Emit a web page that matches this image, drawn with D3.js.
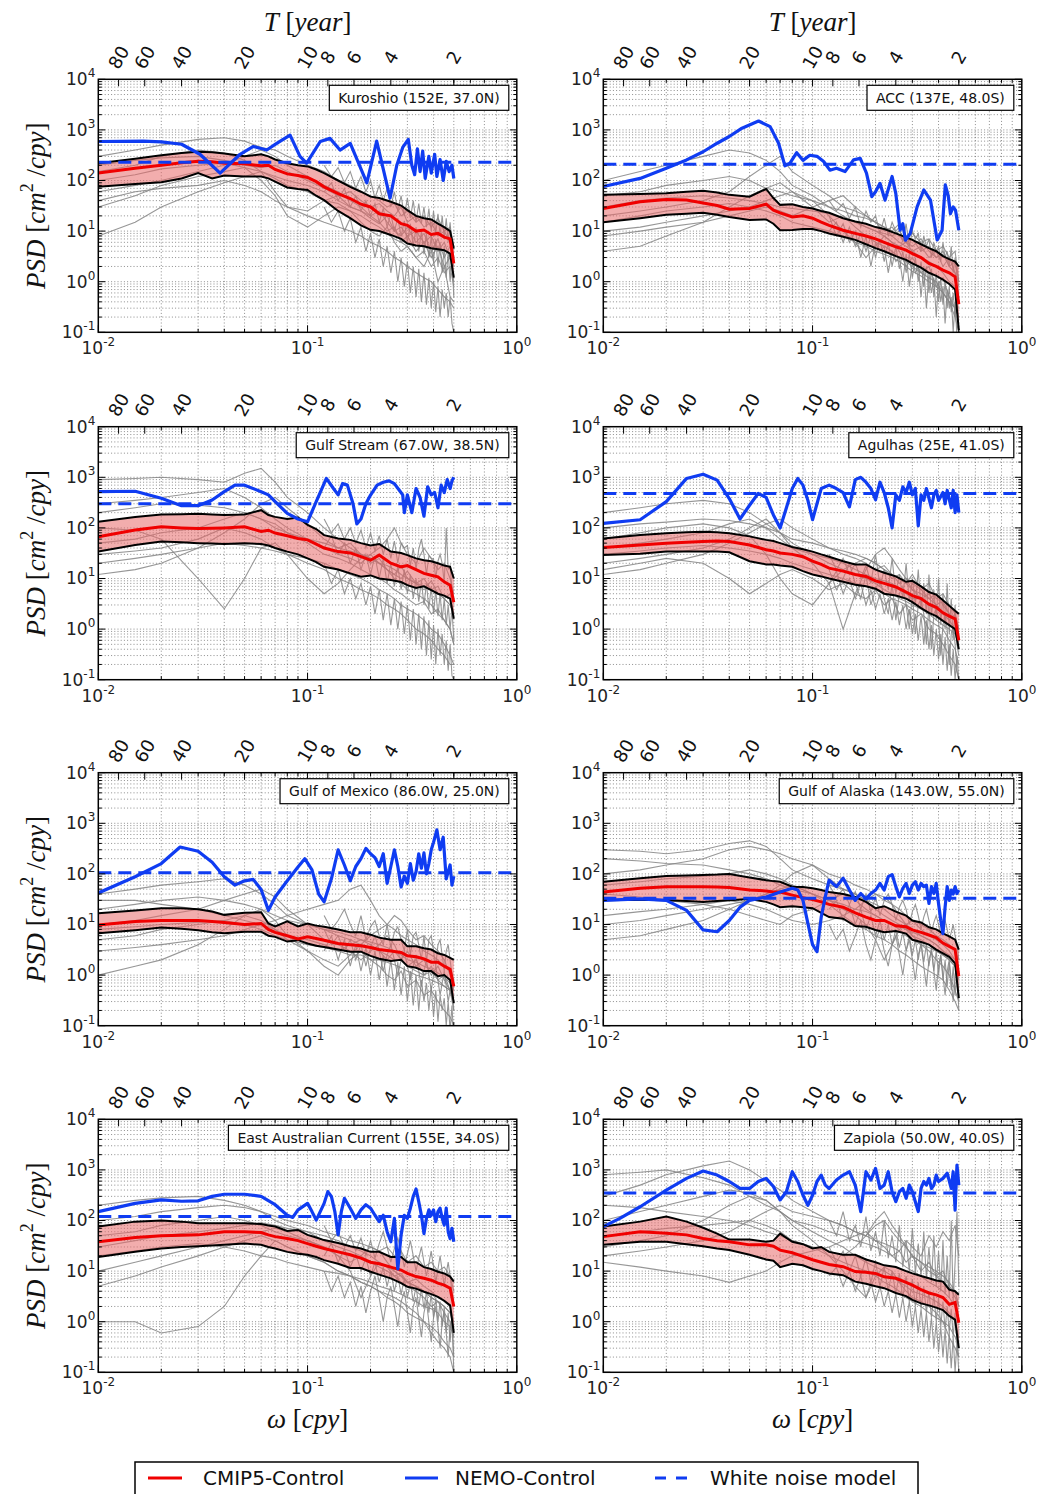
<!DOCTYPE html>
<html><head><meta charset="utf-8">
<script src="https://cdn.jsdelivr.net/npm/d3@7"></script>
<style>body{margin:0;background:#fff} svg{display:block}</style>
</head><body><svg id="c" width="1060" height="1494"></svg>
<script>
// ---------------- DATA ----------------
const panelTitles = ["Kuroshio (152E, 37.0N)","ACC (137E, 48.0S)","Gulf Stream (67.0W, 38.5N)","Agulhas (25E, 41.0S)",
  "Gulf of Mexico (86.0W, 25.0N)","Gulf of Alaska (143.0W, 55.0N)","East Australian Current (155E, 34.0S)","Zapiola (50.0W, 40.0S)"];
const periodTicks = [80,60,40,20,10,8,6,4,2];
const xMajorTicks = [0.01,0.1,1];
const yMajorTicks = [0.1,1,10,100,1000,10000];
const whiteNoise = [230,210,300,480,105,33,120,350];
const legendLabels = ["CMIP5-Control","NEMO-Control","White noise model"];

const meanFreq = [0.01,0.015,0.02,0.025,0.03,0.035,0.04,0.05,0.06,0.065,0.07,0.08,0.09,0.1,0.11,0.12,0.14,0.16,0.18,0.2,0.22,0.25,0.28,0.3,0.33,0.36,0.39,0.42,0.45,0.48,0.5];
const grayFreq = [0.01,0.015,0.02,0.03,0.04,0.05,0.06,0.07,0.08,0.1,0.12,0.14,0.16,0.18,0.2,0.22,0.24,0.26,0.28,0.3,0.33,0.36,0.39,0.42,0.45,0.48,0.5];
const grayHfFreq = [0.12,0.13,0.14,0.15,0.16,0.17,0.18,0.19,0.2,0.21,0.22,0.23,0.24,0.25,0.26,0.27,0.28,0.29,0.3,0.31,0.32,0.33,0.34,0.35,0.36,0.37,0.38,0.39,0.4,0.41,0.42,0.43,0.44,0.45,0.46,0.47,0.48,0.49,0.5];

// Kuroshio
const kuroshioRed = [140,175,200,225,240,235,220,215,195,200,165,135,125,115,95,75,55,44,34,30,22,20,14,13,10,10.5,8.6,9,7.6,7,2.3];
const kuroshioHi = [220,270,315,350,370,360,340,300,330,300,260,220,200,190,165,140,100,75,60,48,45,38,32,26,20,18,17,14,12,10,4.5];
const kuroshioLo = [75,85,92,110,140,110,125,120,120,110,95,73,68,65,50,41,25,18,13,10.6,10,8.4,7,5.7,5.2,5,4.6,4.4,4.2,3.6,1.2];
const kuroshioBlue = [[0.01,590],[0.0164,600],[0.02,580],[0.025,520],[0.0306,330],[0.0382,140],[0.0476,330],[0.0551,470],[0.0638,400],[0.0712,540],[0.0825,790],[0.092,300],[0.099,220],[0.115,590],[0.128,680],[0.143,400],[0.16,540],[0.192,90],[0.214,600],[0.248,45],[0.267,200],[0.285,450],[0.303,650],[0.315,200],[0.325,130],[0.335,420],[0.345,150],[0.355,380],[0.365,110],[0.38,300],[0.39,140],[0.405,330],[0.415,120],[0.43,260],[0.445,100],[0.46,240],[0.475,150],[0.49,200],[0.5,110]];
const kuroshioGray = [
 [8,15,30,60,90,120,150,110,80,60,40,35,25,20,15,12,9,7,6,5,3,4,2,3,1.5,2,0.8],
 [300,400,500,650,700,600,450,400,300,200,150,100,80,60,50,40,30,35,20,25,15,20,12,18,10,12,5],
 [150,200,300,400,350,250,150,60,30,25,40,50,30,25,20,15,10,12,6,8,4,6,3,5,2,3,1],
 [60,80,100,150,200,300,400,300,200,120,80,60,40,30,20,25,15,10,12,8,10,6,8,4,6,3,2],
 [30,50,80,120,150,180,100,50,20,12,20,30,25,15,10,8,12,6,4,5,3,2,4,1,2,0.5,0.4],
 [200,250,280,300,250,200,180,200,150,100,70,50,60,40,30,35,25,20,30,15,20,12,15,8,10,6,3],
 [100,130,170,200,220,180,150,120,100,80,60,40,30,25,18,14,20,10,8,12,6,9,4,7,3,5,2],
 [40,60,70,80,100,80,60,40,30,20,15,12,10,8,6,5,4,3,2.5,2,1.5,1.2,1,0.7,0.5,0.4,0.3]];
const kuroshioGrayHf = [
 [200,120,180,90,150,70,120,60,100,45,80,40,70,30,60,25,50,20,45,18,40,15,35,14,30,12,28,10,25,9,22,8,20,7,18,6,15,5,3],
 [60,90,40,70,30,50,25,40,20,35,15,28,12,22,10,18,8,16,6,14,5,12,4,10,3.5,9,3,8,2.5,7,2,6,1.5,5,1.2,4,1,3,0.5],
 [30,15,25,10,18,6,12,4,9,3,7,2,5,1.5,4,1,3,0.8,2.5,0.6,2,0.5,1.8,0.4,1.5,0.35,1.2,0.3,1,0.25,0.8,0.2,0.7,0.3,0.6,0.2,0.5,0.15,0.1]];

// ACC
const accRed = [28,38,42,41,36,32,27,28,34,26,23,19,20,18,15,13,10.4,9,8,7,6,4.9,4.2,3.6,3,2.3,2,1.7,1.5,1.25,0.36];
const accHi = [52,54,56,60,63,58,52,48,68,45,33,34,30,28,25,23,18,15.5,14,12,11,9,7.5,6.7,5.5,4.6,4,3.2,2.8,2.5,2];
const accLo = [15,18,21,22,23,21,19,16.5,17,14,10.4,10.5,11,11,10,9,7.7,6.7,5.5,4.6,4,3.2,2.7,2.3,1.9,1.5,1.3,1.1,0.9,0.7,0.11];
const accBlue = [[0.01,76],[0.015,110],[0.02,175],[0.025,255],[0.03,370],[0.035,545],[0.04,740],[0.046,1080],[0.0552,1500],[0.0627,1160],[0.0688,545],[0.0738,195],[0.078,220],[0.084,355],[0.09,250],[0.097,315],[0.105,300],[0.113,237],[0.121,160],[0.13,175],[0.143,150],[0.157,255],[0.169,273],[0.181,140],[0.192,48],[0.2,60],[0.21,88],[0.222,41],[0.24,120],[0.25,55],[0.262,10.5],[0.27,14],[0.278,6.6],[0.293,9],[0.316,30],[0.34,65],[0.366,41],[0.394,6.7],[0.416,10.4],[0.431,82],[0.445,50],[0.456,22],[0.47,30],[0.482,26],[0.5,10.4]];
const accGray = [
 [100,150,200,300,400,350,250,150,80,50,30,20,15,12,10,8,6,5,6,4,5,3,4,2,3,1.5,1],
 [4,5,8,15,30,50,70,90,60,30,15,20,12,8,6,5,4,3,2.5,2,1.5,1.2,1,0.6,0.4,0.2,0.1],
 [50,60,80,100,120,100,70,60,50,40,30,25,20,18,15,12,10,14,8,9,6,7,4,5,3,4,1],
 [10,12,15,20,25,30,40,50,60,40,20,10,6,3,5,8,6,4,2,3,1.5,2,0.8,1.2,0.5,0.3,0.2],
 [20,25,30,40,60,120,200,300,150,80,50,30,25,20,15,10,12,8,6,5,7,4,3,4,2,2.5,1],
 [30,40,45,50,45,40,35,30,28,25,22,18,15,12,10,9,8,6,5,4,3,2.5,2,1.5,1,0.8,0.5],
 [8,10,12,15,20,25,30,25,20,30,40,50,30,20,15,12,8,10,6,7,4,5,3,3.5,2,1.5,0.5],
 [15,20,25,30,35,30,25,20,15,12,10,8,6,5,4,3.5,3,2.5,2,1.6,1.3,1,0.8,0.6,0.4,0.3,0.2]];
const accGrayHf = [
 [40,25,35,18,30,12,25,15,20,9,18,8,15,10,12,6,14,5,10,7,9,4,8,5,7,3,6,4,5,2.5,6,3,4,2,5,1.5,3,1.2,0.8],
 [10,15,6,12,5,9,4,8,3,7,2.5,6,2,5,1.8,4,1.5,3.5,1.2,3,1,2.5,0.8,2,0.6,1.8,0.5,1.5,0.4,1.2,0.35,1,0.3,0.8,0.25,0.6,0.2,0.5,0.1],
 [20,8,14,6,10,3,8,2,6,4,5,1.5,4,2.5,3,1,3.5,0.8,2.5,1.5,2,0.5,2,0.3,1.5,0.6,1.2,0.2,1,0.4,0.8,0.15,0.7,0.3,0.5,0.1,0.4,0.08,0.05]];

// Gulf Stream
const gulfStreamRed = [67,91,105,100,97,98,100,105,85,90,79,70,62,58,48,40,34,32,27,23,29,20,17,18,15,12.6,11.6,10.8,8.6,7.4,3.4];
const gulfStreamHi = [132,165,183,187,190,185,180,185,224,180,165,150,160,115,95,72,62,58,50,45,48,34,32,29,25,23,22,20,18,17,10];
const gulfStreamLo = [34,46,54,52,50,49,48,50,48,45,40,34,30,25,21,17,15,12.6,10.8,11.5,10,9.3,8.5,7.4,6.5,7,5.9,5,4.6,4,1.6];
const gulfStreamBlue = [[0.01,520],[0.015,530],[0.02,385],[0.025,275],[0.03,275],[0.035,355],[0.04,520],[0.045,700],[0.05,700],[0.06,520],[0.065,450],[0.07,330],[0.08,194],[0.09,150],[0.1,132],[0.11,330],[0.123,950],[0.133,600],[0.14,450],[0.147,750],[0.155,700],[0.165,300],[0.172,120],[0.18,150],[0.19,300],[0.2,445],[0.215,700],[0.23,800],[0.245,850],[0.26,750],[0.275,550],[0.285,450],[0.29,200],[0.3,450],[0.315,200],[0.33,600],[0.345,400],[0.36,170],[0.375,650],[0.39,450],[0.405,500],[0.42,250],[0.435,700],[0.45,500],[0.465,900],[0.48,600],[0.49,850],[0.5,1000]];
const gulfStreamGray = [
 [900,950,1000,900,800,1200,1500,800,400,200,100,60,40,30,25,20,15,12,10,14,8,10,6,7,4,5,2],
 [12,15,20,40,80,150,300,400,250,120,60,40,50,30,20,25,15,12,18,10,8,6,9,5,4,3,2],
 [100,90,60,10,2.5,10,40,50,30,20,15,10,8,6,5,4,3,2.5,2,1.5,1,0.8,0.6,0.4,0.3,0.2,0.2],
 [300,350,400,500,600,400,250,150,100,60,40,30,25,20,30,40,60,100,50,30,20,40,25,15,20,10,5],
 [50,60,80,100,150,200,150,100,80,60,50,40,35,30,25,20,18,15,12,10,8,7,6,5,4,3,2],
 [20,25,30,40,50,45,40,35,30,25,20,15,12,10,8,6,5,4,3,2.5,2,1.5,1,0.8,0.5,0.3,0.2],
 [200,250,300,280,250,200,150,120,80,50,30,25,20,15,12,10,8,6,5,4,3,3.5,2,2.5,1.5,1,0.5],
 [30,35,40,60,100,80,60,40,30,10,5,8,15,25,30,20,15,10,8,6,5,4,3,2,1.5,1,0.5]];
const gulfStreamGrayHf = [
 [150,80,120,60,100,50,90,40,80,35,70,30,60,25,55,20,50,40,45,18,40,15,38,60,30,12,28,25,24,10,22,30,20,8,100,15,18,6,4],
 [40,70,30,50,20,40,15,30,12,28,10,25,8,20,7,18,6,15,5,12,4,10,3.5,9,3,8,2.5,7,2,6,1.8,5,1.5,4,1.2,3,1,2.5,0.6],
 [20,8,15,5,10,4,8,3,7,2,6,1.5,5,1.2,4,1,3.5,0.8,3,0.6,2.5,0.5,2,0.4,1.8,0.3,1.5,0.25,1.2,0.2,1,0.3,0.8,0.2,0.6,0.15,0.5,0.12,0.1]];

// Agulhas
const agulhasRed = [41,46,50,52,54,55,54,46,37,35,32,30,27,22,19,16,14,12,11,9,8,6.8,5.4,4.6,4,3.1,2.7,2.1,1.8,1.6,0.6];
const agulhasHi = [62,72,78,82,84,82,78,68,58,55,50,42,38,34,30,27,22,19,19,15,13,11,8.6,9,7,5.4,4.8,3.7,2.9,2.3,2];
const agulhasLo = [29,31,34,34,34,34,33,22,19,19,18,17,14,12,11,10,8.6,7.5,7,6.3,5,4.6,4,3.4,2.6,2.1,1.8,1.45,1.2,1,0.4];
const agulhasBlue = [[0.01,123],[0.015,145],[0.02,330],[0.025,950],[0.03,1150],[0.035,880],[0.04,380],[0.045,150],[0.05,280],[0.055,480],[0.06,400],[0.065,180],[0.07,100],[0.075,250],[0.08,600],[0.085,950],[0.09,700],[0.095,350],[0.1,145],[0.11,600],[0.12,700],[0.13,600],[0.14,500],[0.15,260],[0.16,900],[0.17,1000],[0.18,800],[0.19,600],[0.2,360],[0.21,800],[0.22,500],[0.23,250],[0.24,100],[0.25,450],[0.26,350],[0.27,650],[0.28,500],[0.29,800],[0.3,450],[0.31,600],[0.32,110],[0.33,450],[0.34,350],[0.35,600],[0.37,250],[0.38,450],[0.39,550],[0.4,350],[0.42,500],[0.43,300],[0.44,550],[0.46,250],[0.47,550],[0.48,200],[0.49,450],[0.5,200]];
const agulhasGray = [
 [200,250,300,350,300,200,120,80,50,30,20,15,12,10,8,6,5,4,3.5,3,2.5,2,1.5,1.2,1,0.8,0.5],
 [12,15,20,30,50,80,120,150,100,60,40,30,25,20,15,18,12,8,10,6,5,4,3,3.5,2,1.5,0.8],
 [60,80,100,120,100,70,30,10,5,3,8,15,20,25,20,15,10,12,8,6,4,5,3,2,1.5,2,1],
 [30,35,40,45,40,35,30,25,20,15,12,10,8,7,6,5,4,3.5,3,2.5,2,1.5,1.2,1,0.6,0.4,0.2],
 [20,25,30,40,60,100,150,80,40,20,8,1,5,15,30,40,25,15,10,8,6,4,5,3,2,1.5,1],
 [100,120,130,150,140,120,100,80,60,50,40,35,30,25,20,15,12,10,8,12,6,8,4,5,3,2,1],
 [15,20,25,20,10,5,8,12,15,10,6,8,5,4,6,3,4,2,3,1.5,2,1,0.8,0.5,0.3,0.2,0.1],
 [40,50,60,80,120,150,100,60,40,30,25,20,15,12,10,9,8,6,5,4,4,3,2.5,2,1.5,1,0.6]];
const agulhasGrayHf = [
 [30,15,25,12,20,10,18,8,30,7,15,6,25,5,12,4,20,3.5,10,3,15,2.5,8,2,12,1.8,6,1.5,10,1.2,5,1,8,0.8,4,0.6,3,0.5,0.3],
 [8,14,5,10,4,8,3,6,2.5,5,2,4,1.5,3.5,1.2,3,1,2.5,0.8,2,0.6,1.8,0.5,1.5,0.4,1.2,0.3,1,0.25,0.8,0.2,0.7,0.15,0.5,0.12,0.4,0.1,0.3,0.1],
 [15,6,10,20,8,4,12,3,6,10,4,2,8,1.5,5,7,3,1,5,0.8,3,4,2,0.5,3,0.4,2,2.5,1.5,0.3,1.2,2,1,0.2,0.8,1.2,0.5,0.15,0.1]];

// Gulf of Mexico
const mexicoRed = [9.8,11.5,12,12,12,11.5,11,10,10.5,8,7,6,5.2,5.7,5.3,4.9,4.2,4,3.8,3.5,3.2,3,2.8,2.4,2.3,2.1,1.8,1.8,1.5,1.3,0.6];
const mexicoHi = [16.6,19,21,21,20,18,15.5,17,17.5,10.5,9.2,11.5,9.2,10.5,9.5,9,8,7,7,6.3,5.5,5,5,3.7,3.7,3.4,3.2,2.7,2.5,2.2,2];
const mexicoLo = [6.7,7.7,8.7,8.2,7.7,7,6.7,7.2,7.2,6,5.7,4.6,4.9,4.2,3.8,3.6,3.2,2.9,2.9,2.4,2.1,1.9,2,1.5,1.4,1.2,1.2,0.95,1,0.8,0.28];
const mexicoBlue = [[0.01,42],[0.015,88],[0.02,160],[0.0246,340],[0.03,280],[0.035,170],[0.04,88],[0.045,60],[0.05,73],[0.055,78],[0.06,49],[0.065,19],[0.07,35],[0.08,73],[0.09,137],[0.097,200],[0.105,120],[0.113,40],[0.12,28],[0.13,80],[0.14,300],[0.15,150],[0.16,73],[0.17,140],[0.18,200],[0.19,320],[0.2,250],[0.21,210],[0.22,140],[0.23,250],[0.24,65],[0.25,140],[0.26,300],[0.27,140],[0.28,55],[0.29,90],[0.3,65],[0.31,160],[0.32,75],[0.33,110],[0.34,250],[0.35,130],[0.36,260],[0.37,100],[0.38,160],[0.39,300],[0.4,420],[0.415,740],[0.43,300],[0.445,530],[0.46,80],[0.48,150],[0.49,60],[0.5,90]];
const mexicoGray = [
 [1,1.5,2,4,8,15,20,12,6,3,1.5,1,2,3,2,1.5,1,0.8,1.2,0.6,0.8,0.4,0.5,0.3,0.2,0.15,0.1],
 [40,50,60,70,80,60,40,25,15,10,8,6,5,4,3.5,3,2.5,2,2,1.5,1.2,1,1.2,0.8,0.6,0.5,0.3],
 [3,3.5,4,5,6,8,10,12,15,20,25,30,50,60,30,15,10,8,6,5,4,3,2.5,2,1.5,1.2,0.8],
 [20,25,30,35,30,25,20,15,12,10,8,7,6,5,4.5,4,3.5,3,2.5,2,1.8,1.5,1.3,1.1,0.9,0.7,0.5],
 [5,6,8,10,12,15,12,8,5,3,2,1.5,2.5,4,6,8,10,15,12,8,5,6,4,3,2,1,0.5],
 [10,12,15,20,30,40,50,35,20,10,5,4,3,2,3,4,6,4,2,3,1.5,2,1,1.5,0.8,0.5,0.3],
 [8,9,10,11,12,10,8,6,5,4,3.5,3,2.5,2.5,2,2,1.8,1.6,1.4,1.2,1,0.9,0.8,0.7,0.6,0.5,0.3],
 [30,30,25,20,15,12,10,8,6,5,4,3,4,5,4,3,2,3,2,1.5,2,1,1.5,0.8,1,0.5,0.2]];
const mexicoGrayHf = [
 [15,8,12,20,10,6,15,5,9,12,6,4,10,3.5,7,9,5,3,8,2.5,6,7,4,2,6,1.8,5,6,3,1.5,4,5,2.5,1.2,3,4,2,1,0.6],
 [3,6,2,5,1.5,4,1.2,3.5,1,3,0.8,2.5,0.6,2,0.5,1.8,0.4,1.5,0.3,1.2,0.25,1,0.2,0.8,0.3,0.7,0.2,0.6,0.15,0.5,0.12,0.4,0.2,0.35,0.1,0.3,0.08,0.25,0.05],
 [8,4,6,3,5,2,4,1.5,3.5,6,3,1.2,2.5,4,2,1,2,3,1.5,0.8,1.5,2.5,1.2,0.6,1.2,2,1,0.5,1,1.5,0.8,0.4,0.7,1.2,0.6,0.3,0.5,0.8,0.2]];

// Gulf of Alaska
const alaskaRed = [44,52,56,56,56,55,54,48,46,44,44,38,34,31,28,25,22,17,14,12,12,9.4,9,7.8,7,6.2,5.5,4.3,3.7,3.2,0.95];
const alaskaHi = [70,82,91,93,95,97,100,85,75,72,70,56,55,52,48,44,40,35,28,21,23,18,15,12,11,8.8,8,6.7,5.8,5,3.2];
const alaskaLo = [30,31,30,29,28,29,30,32,28,25,22,23,22,21,17,14,13,9.3,9,7.8,7,7.4,6.6,5,4.5,4,3.2,2.7,2.3,1.7,0.35];
const alaskaBlue = [[0.01,30],[0.015,32],[0.02,30],[0.025,19],[0.03,7.8],[0.035,7.2],[0.04,12],[0.045,22],[0.05,30],[0.06,35],[0.07,44],[0.08,52],[0.085,48],[0.09,30],[0.095,10.5],[0.1,4],[0.105,2.9],[0.11,14],[0.115,35],[0.12,75],[0.13,56],[0.14,82],[0.15,48],[0.16,30],[0.17,41],[0.18,32],[0.19,41],[0.2,48],[0.21,65],[0.22,48],[0.23,88],[0.24,97],[0.25,56],[0.26,35],[0.27,52],[0.28,65],[0.29,41],[0.3,60],[0.31,70],[0.32,48],[0.33,65],[0.34,56],[0.35,60],[0.36,26],[0.37,56],[0.38,41],[0.39,65],[0.4,26],[0.41,12],[0.42,6.6],[0.43,22],[0.44,56],[0.45,30],[0.46,48],[0.47,40],[0.48,56],[0.49,41],[0.5,48]];
const alaskaGray = [
 [300,280,250,300,400,450,350,200,120,80,60,50,40,30,25,20,15,12,10,12,8,6,5,4,3,2,1],
 [5,6,8,12,20,30,40,60,100,150,80,50,40,30,20,15,12,10,8,6,5,4,3,2.5,2,1.5,1],
 [100,120,150,200,300,350,300,250,200,150,100,80,60,50,40,30,25,20,15,12,10,8,6,5,4,3,2],
 [15,18,20,25,30,25,20,15,12,10,12,15,20,30,40,35,25,15,10,8,6,5,4,3,2,1.5,0.8],
 [60,70,80,90,100,120,100,80,60,40,30,20,15,10,5,2,4,8,10,6,4,3,2,1.5,1,0.5,0.3],
 [40,35,30,25,20,15,12,10,15,20,30,40,30,20,15,12,10,8,6,5,4,3.5,3,2.5,2,1.5,1],
 [200,180,160,150,120,100,80,60,50,40,30,25,20,18,15,12,10,9,8,7,6,5,4,3,2.5,2,1.5],
 [10,12,15,20,25,30,40,50,60,40,25,15,10,8,6,5,4,3,2.5,2,1.5,1.2,1,0.8,0.5,0.3,0.2]];
const alaskaGrayHf = [
 [60,35,50,25,45,20,40,18,35,15,30,40,25,12,22,30,20,10,18,25,15,8,14,20,12,7,11,15,10,6,9,12,8,5,7,10,6,4,2],
 [20,30,12,25,10,20,8,15,6,12,5,10,4,8,3.5,7,3,6,2.5,5,2,4.5,1.8,4,1.5,3.5,1.2,3,1,2.5,0.8,2,0.6,1.8,0.5,1.5,0.4,1.2,0.2],
 [10,5,8,3,6,12,4,2,5,8,3,1.5,4,6,2.5,1,3,5,2,0.8,2.5,4,1.5,0.6,2,3,1.2,0.5,1.5,2.5,1,0.4,1.2,2,0.8,0.3,1,1.5,0.3]];

// East Australian Current
const eacRed = [38,46,50,51,52,56,60,60,58,52,48,44,40,35,31,28,24,21,18,15,14,12,10.5,9,7.8,7.2,6.6,5.8,5.3,4.6,2];
const eacHi = [76,95,100,95,88,88,88,88,85,80,76,62,65,52,46,41,36,31,28,24,24,19,19,15,15,12,11,9.7,9,7.8,6.2];
const eacLo = [19,24,28,30,31,32,33,35,33,30,28,24,22,21,19,16.5,14,11.5,11.5,9.7,8.5,7.2,5.8,4.9,4.5,3.9,3.5,3.1,2.6,2.1,0.6];
const eacBlue = [[0.01,150],[0.015,218],[0.02,255],[0.025,240],[0.03,245],[0.035,300],[0.04,330],[0.05,330],[0.06,300],[0.07,205],[0.08,127],[0.085,115],[0.09,162],[0.1,218],[0.105,150],[0.11,102],[0.115,150],[0.12,218],[0.125,372],[0.13,300],[0.135,150],[0.14,52],[0.145,150],[0.15,275],[0.16,175],[0.17,110],[0.18,162],[0.19,205],[0.2,175],[0.21,127],[0.22,95],[0.23,127],[0.24,60],[0.25,38],[0.26,110],[0.27,11],[0.28,52],[0.29,127],[0.3,110],[0.31,175],[0.32,300],[0.33,420],[0.34,235],[0.35,127],[0.36,55],[0.37,110],[0.38,162],[0.39,127],[0.4,162],[0.41,95],[0.42,150],[0.43,175],[0.44,110],[0.45,81],[0.46,175],[0.47,60],[0.48,44],[0.49,70],[0.5,38]];
const eacGray = [
 [1,1,0.6,0.8,2,8,20,40,30,20,15,10,8,6,5,4,3,2.5,2,1.5,1.2,1,0.6,0.4,0.3,0.2,0.1],
 [200,250,280,300,250,200,150,100,80,60,40,30,25,20,15,12,10,8,9,6,7,5,4,3,2.5,2,1],
 [10,15,20,30,40,50,60,70,60,40,30,20,15,20,30,25,15,10,8,6,5,4,3,2.5,2,1.5,0.8],
 [50,60,80,100,120,100,80,60,50,40,30,20,10,3,8,15,12,8,6,5,4,3,2,2.5,1.5,1,0.5],
 [20,25,30,35,30,25,20,18,15,12,10,9,8,7,6,5,4.5,4,3.5,3,2.5,2,1.8,1.5,1,0.8,0.5],
 [100,120,150,180,200,180,150,120,100,80,60,50,40,35,30,25,30,20,25,15,20,12,15,10,12,8,4],
 [5,8,12,20,30,40,50,40,30,20,15,10,8,6,5,4,3.5,3,2.5,2,1.5,1,0.8,0.6,0.4,0.3,0.2],
 [30,40,50,60,70,80,90,80,70,60,50,40,30,25,20,15,12,10,8,6,5,4,3,2.5,2,1.5,1]];
const eacGrayHf = [
 [80,40,60,30,50,25,45,20,40,18,35,60,30,15,28,45,25,12,22,40,20,10,18,30,15,8,14,25,12,6,11,20,10,5,9,15,8,4,2],
 [20,35,15,28,12,22,10,18,8,15,6,12,5,10,4,8,3.5,7,3,6,2.5,5,2,4.5,1.8,4,1.5,3.5,1.2,3,1,2.5,0.8,2,0.6,1.5,0.4,1.2,0.2],
 [10,4,8,3,6,2,5,1.5,4,8,3,1,3,5,2,0.8,2.5,4,1.5,0.6,2,3,1.2,0.5,1.5,2.5,1,0.4,1.2,2,0.8,0.3,1,1.5,0.6,0.2,0.8,1.2,0.1]];

// Zapiola
const zapiolaRed = [48,60,56,52,44,40,38,33,33,31,26,23,19.5,16.8,15,13.5,12.2,9.8,9.5,9,7.7,7.2,6,5.3,4.3,3.7,3.4,3,2.2,2.4,0.95];
const zapiolaHi = [76,95,120,95,72,55,42,42,38,40,55,38,34,28,30,24,21,21,17,15,13,12,10,9,8,7.2,6.5,6.2,4.3,4,3.4];
const zapiolaLo = [33,38,38,34,31,28,26,21,17,16,12,14,13,11,10,9,8.3,6.2,5.6,5,4.6,3.7,3.2,2.7,2.3,2.1,1.9,1.7,1.3,1.1,0.3];
const zapiolaBlue = [[0.01,76],[0.012,110],[0.015,187],[0.02,400],[0.025,680],[0.03,950],[0.035,790],[0.04,590],[0.045,430],[0.05,430],[0.055,590],[0.06,680],[0.065,470],[0.07,255],[0.075,370],[0.08,920],[0.085,590],[0.09,315],[0.095,200],[0.1,315],[0.105,590],[0.11,790],[0.115,500],[0.12,430],[0.13,630],[0.14,790],[0.15,920],[0.16,500],[0.17,150],[0.175,370],[0.18,920],[0.19,630],[0.2,1070],[0.21,430],[0.22,500],[0.23,920],[0.24,370],[0.25,235],[0.26,370],[0.27,430],[0.28,275],[0.29,500],[0.3,370],[0.32,150],[0.33,430],[0.34,590],[0.35,500],[0.36,680],[0.37,430],[0.38,500],[0.39,790],[0.4,590],[0.42,680],[0.44,860],[0.46,430],[0.47,920],[0.48,160],[0.49,1250],[0.5,500]];
const zapiolaGray = [
 [300,500,800,1200,1500,1000,600,400,250,150,100,80,60,50,40,35,30,25,40,30,20,50,30,60,40,80,20],
 [20,25,30,40,60,100,150,200,150,120,100,80,60,50,100,150,80,50,30,20,15,10,8,6,5,4,2],
 [100,150,200,300,400,350,250,150,80,40,20,10,5,3,8,12,10,6,4,3,2.5,2,1.5,1,0.5,0.3,0.2],
 [15,12,10,8,6,8,10,15,20,25,30,40,50,60,40,30,20,25,15,20,10,15,8,10,5,3,2],
 [50,60,70,80,90,100,80,60,40,30,20,15,12,10,8,6,5,4,3,2.5,2,1.5,1.2,1,0.8,0.5,0.3],
 [800,900,1000,700,500,300,200,150,100,80,60,50,40,35,30,25,20,15,12,10,8,6,5,4,3,2,1],
 [30,40,50,100,200,300,250,150,100,60,40,30,20,15,12,10,8,6,5,4,3.5,3,2.5,2,1.5,1,0.5],
 [200,180,150,120,100,80,60,50,40,30,25,20,30,50,80,100,60,40,30,20,15,12,10,8,6,4,2]];
const zapiolaGrayHf = [
 [100,50,150,40,80,30,120,25,60,20,100,18,50,15,80,12,40,10,70,9,35,8,60,7,30,6,50,5,25,4,40,3.5,20,3,100,2.5,15,150,5],
 [30,15,25,10,20,8,18,6,15,5,12,4,10,3.5,9,3,8,2.5,7,2,6,1.8,5,1.5,4,1.2,3.5,1,3,0.8,2.5,0.7,2,0.6,1.8,0.5,1.5,0.4,0.2],
 [8,12,5,10,4,8,3,6,2.5,5,2,4,1.5,3.5,1.2,3,1,2.5,0.8,2,0.6,1.8,0.5,1.5,0.4,1.2,0.3,1,0.25,0.8,0.2,0.7,0.15,0.6,0.12,0.5,0.1,0.4,0.1]];

// ---------------- BUILD ----------------
const panels = [
 {red:kuroshioRed,hi:kuroshioHi,lo:kuroshioLo,blue:kuroshioBlue,gray:kuroshioGray,grayHf:kuroshioGrayHf},
 {red:accRed,hi:accHi,lo:accLo,blue:accBlue,gray:accGray,grayHf:accGrayHf},
 {red:gulfStreamRed,hi:gulfStreamHi,lo:gulfStreamLo,blue:gulfStreamBlue,gray:gulfStreamGray,grayHf:gulfStreamGrayHf},
 {red:agulhasRed,hi:agulhasHi,lo:agulhasLo,blue:agulhasBlue,gray:agulhasGray,grayHf:agulhasGrayHf},
 {red:mexicoRed,hi:mexicoHi,lo:mexicoLo,blue:mexicoBlue,gray:mexicoGray,grayHf:mexicoGrayHf},
 {red:alaskaRed,hi:alaskaHi,lo:alaskaLo,blue:alaskaBlue,gray:alaskaGray,grayHf:alaskaGrayHf},
 {red:eacRed,hi:eacHi,lo:eacLo,blue:eacBlue,gray:eacGray,grayHf:eacGrayHf},
 {red:zapiolaRed,hi:zapiolaHi,lo:zapiolaLo,blue:zapiolaBlue,gray:zapiolaGray,grayHf:zapiolaGrayHf}
].map((p,i)=>Object.assign(p,{title:panelTitles[i],noise:whiteNoise[i]}));

const SANS = "'DejaVu Sans', sans-serif";
const SERIF = "'Liberation Serif', 'DejaVu Serif', serif";
const RED = "#f00000", BLUE = "#0f3cf2";
const W = 418.5, H = 253;
const colX = [98.3, 603.3];
const rowY = [79.3, 426.7, 772.7, 1119.3];
const svg = d3.select('#c');

const x = d3.scaleLog().domain([0.01, 1]).range([0, W]);
const y = d3.scaleLog().domain([0.1, 1e4]).range([H, 0]);
const xMinor = []; [0.01,0.1].forEach(b=>{for(let k=2;k<10;k++) xMinor.push(+(k*b).toFixed(3));});
const yMinor = []; [0.1,1,10,100,1000].forEach(b=>{for(let k=2;k<10;k++) yMinor.push(+(k*b).toPrecision(3));});

const line = d3.line().x(d=>x(d[0])).y(d=>y(d[1]));
const area = d3.area().x(d=>x(d[0])).y0(d=>y(d[1])).y1(d=>y(d[2]));

function sup10(sel, exp, supSize, rise){
  sel.append('tspan').text('10');
  sel.append('tspan').attr('dy', -rise).attr('font-size', supSize).text(exp);
}
function zip(freqs, vals){ const n=Math.min(freqs.length, vals.length); const out=[]; for(let k=0;k<n;k++) out.push([freqs[k], vals[k]]); return out; }

panels.forEach((p,i)=>{
  const col = i%2, row = Math.floor(i/2);
  const g = svg.append('g').attr('transform',`translate(${colX[col]},${rowY[row]})`);
  const cid = 'clip'+i;
  g.append('clipPath').attr('id',cid).append('rect').attr('width',W).attr('height',H);

  // grid
  const grid = g.append('g').attr('stroke','#000').attr('stroke-width',0.6).attr('stroke-dasharray','1,2.2').attr('opacity',0.75);
  xMinor.concat([0.1]).forEach(v=>grid.append('line').attr('x1',x(v)).attr('x2',x(v)).attr('y1',0).attr('y2',H));
  yMinor.concat([1,10,100,1000]).forEach(v=>grid.append('line').attr('y1',y(v)).attr('y2',y(v)).attr('x1',0).attr('x2',W));

  const plot = g.append('g').attr('clip-path',`url(#${cid})`);
  p.gray.forEach(arr=>{
    plot.append('path').attr('d',line(zip(grayFreq,arr))).attr('fill','none').attr('stroke','#858585').attr('stroke-width',1.1).attr('opacity',0.85);
  });
  p.grayHf.forEach(arr=>{
    plot.append('path').attr('d',line(zip(grayHfFreq,arr))).attr('fill','none').attr('stroke','#858585').attr('stroke-width',1.1).attr('opacity',0.85);
  });
  const band = meanFreq.map((f,k)=>[f,p.lo[k],p.hi[k]]);
  plot.append('path').attr('d',area(band)).attr('fill','#e86a6a').attr('opacity',0.55);
  plot.append('path').attr('d',line(zip(meanFreq,p.hi))).attr('fill','none').attr('stroke','#000').attr('stroke-width',2);
  plot.append('path').attr('d',line(zip(meanFreq,p.lo))).attr('fill','none').attr('stroke','#000').attr('stroke-width',2);
  plot.append('path').attr('d',line(zip(meanFreq,p.red))).attr('fill','none').attr('stroke',RED).attr('stroke-width',3);
  plot.append('path').attr('d',line(p.blue)).attr('fill','none').attr('stroke',BLUE).attr('stroke-width',3.2).attr('stroke-linejoin','round');
  plot.append('path').attr('d',line([[0.01,p.noise],[1,p.noise]])).attr('fill','none').attr('stroke',BLUE).attr('stroke-width',3).attr('stroke-dasharray','13,7');

  g.append('rect').attr('width',W).attr('height',H).attr('fill','none').attr('stroke','#000').attr('stroke-width',1.5);

  const tk = g.append('g').attr('stroke','#000').attr('stroke-width',1);
  yMajorTicks.forEach(v=>{tk.append('line').attr('x1',0).attr('x2',7).attr('y1',y(v)).attr('y2',y(v));
    tk.append('line').attr('x1',W).attr('x2',W-7).attr('y1',y(v)).attr('y2',y(v));});
  yMinor.forEach(v=>{tk.append('line').attr('x1',0).attr('x2',3.5).attr('y1',y(v)).attr('y2',y(v));
    tk.append('line').attr('x1',W).attr('x2',W-3.5).attr('y1',y(v)).attr('y2',y(v));});
  xMajorTicks.forEach(v=>{tk.append('line').attr('x1',x(v)).attr('x2',x(v)).attr('y1',H).attr('y2',H-7);});
  xMinor.forEach(v=>{tk.append('line').attr('x1',x(v)).attr('x2',x(v)).attr('y1',H).attr('y2',H-3.5);
    tk.append('line').attr('x1',x(v)).attr('x2',x(v)).attr('y1',0).attr('y2',3.5);});
  periodTicks.forEach(T=>{tk.append('line').attr('x1',x(1/T)).attr('x2',x(1/T)).attr('y1',0).attr('y2',7);});

  yMajorTicks.forEach(v=>{
    const t = g.append('text').attr('x',-3).attr('y',y(v)+6).attr('text-anchor','end')
      .attr('font-family',SANS).attr('font-size',17).attr('fill','#222');
    sup10(t, String(Math.round(Math.log10(v))), 12, 8);
  });
  xMajorTicks.forEach(v=>{
    const t = g.append('text').attr('x',x(v)).attr('y',H+22).attr('text-anchor','middle')
      .attr('font-family',SANS).attr('font-size',17).attr('fill','#222');
    sup10(t, String(Math.round(Math.log10(v))), 12, 8);
  });
  periodTicks.forEach(T=>{
    const px = x(1/T), py = -22;
    g.append('text').attr('x',px).attr('y',py).attr('text-anchor','middle').attr('dominant-baseline','central')
      .attr('transform',`rotate(-60,${px},${py})`).attr('font-family',SANS).attr('font-size',18).attr('fill','#111').text(T);
  });

  const tb = g.append('g');
  const tt = tb.append('text').attr('font-family',SANS).attr('font-size',14).attr('fill','#111').text(p.title);
  const tw = tt.node().getComputedTextLength();
  const bx = W - 8 - tw - 18, by = 6;
  tb.insert('rect','text').attr('x',bx).attr('y',by).attr('width',tw+18).attr('height',25).attr('fill','#fff').attr('stroke','#000').attr('stroke-width',1.2);
  tt.attr('x',bx+9).attr('y',by+17.5);

  if (col===0){
    const t = g.append('text').attr('transform',`translate(${45-colX[0]},${H/2}) rotate(-90)`).attr('text-anchor','middle')
      .attr('font-family',SERIF).attr('font-size',27).attr('fill','#111');
    t.append('tspan').attr('font-style','italic').text('PSD');
    t.append('tspan').text(' [');
    t.append('tspan').attr('font-style','italic').text('cm');
    t.append('tspan').attr('font-size',18).attr('dy',-12).text('2');
    t.append('tspan').attr('dy',12).text(' /');
    t.append('tspan').attr('font-style','italic').text('cpy');
    t.append('tspan').text(']');
  }
  if (row===0){
    const t = g.append('text').attr('x',W/2).attr('y',31-rowY[0]).attr('text-anchor','middle')
      .attr('font-family',SERIF).attr('font-size',27).attr('fill','#111');
    t.append('tspan').attr('font-style','italic').text('T');
    t.append('tspan').text(' [');
    t.append('tspan').attr('font-style','italic').text('year');
    t.append('tspan').text(']');
  }
  if (row===3){
    const t = g.append('text').attr('x',W/2).attr('y',1428-rowY[3]).attr('text-anchor','middle')
      .attr('font-family',SERIF).attr('font-size',27).attr('fill','#111');
    t.append('tspan').attr('font-style','italic').text('ω');
    t.append('tspan').text(' [');
    t.append('tspan').attr('font-style','italic').text('cpy');
    t.append('tspan').text(']');
  }
});

const lg = svg.append('g');
lg.append('rect').attr('x',135).attr('y',1462).attr('width',783).attr('height',42).attr('fill','#fff').attr('stroke','#000').attr('stroke-width',1.5);
const legendItems = [
  {x1:148,x2:182,tx:203,color:RED,dash:null},
  {x1:405,x2:438,tx:455,color:BLUE,dash:null},
  {x1:655,x2:689,tx:710,color:BLUE,dash:'11,10'}];
legendItems.forEach((it,k)=>{
  const l = lg.append('line').attr('x1',it.x1).attr('x2',it.x2).attr('y1',1478).attr('y2',1478).attr('stroke',it.color).attr('stroke-width',3);
  if (it.dash) l.attr('stroke-dasharray',it.dash);
  lg.append('text').attr('x',it.tx).attr('y',1485).attr('font-family',SANS).attr('font-size',20).attr('fill','#111').text(legendLabels[k]);
});
</script></body></html>
